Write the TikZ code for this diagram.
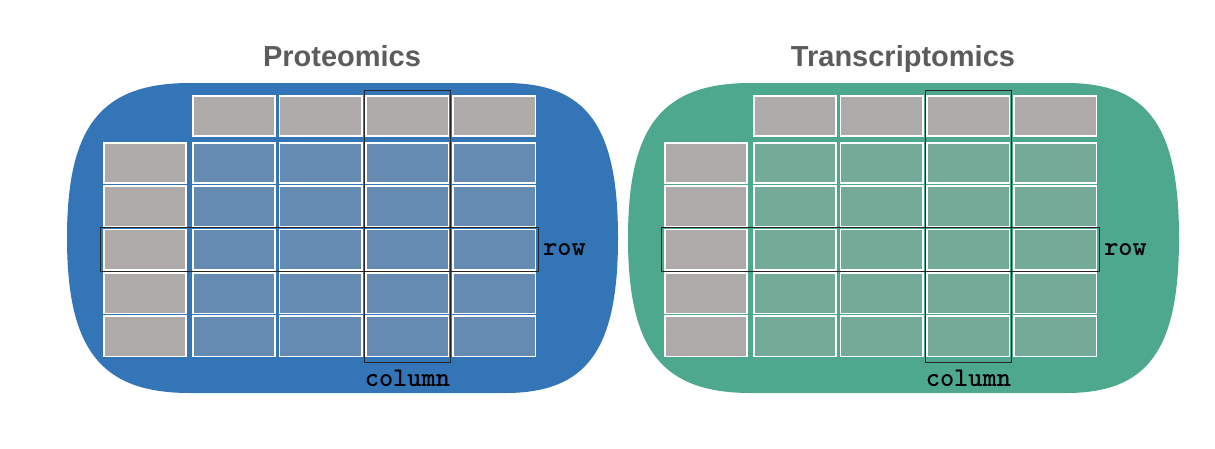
\documentclass[tikz,border=0pt]{standalone}
\usepackage{fontspec}
\newfontfamily\headfont{Liberation Sans}
\usetikzlibrary{fit,positioning}

\definecolor{protblue}{RGB}{52,117,183}
\definecolor{protcell}{RGB}{101,139,178}
\definecolor{transgreen}{RGB}{78,168,142}
\definecolor{transcell}{RGB}{115,171,152}
\definecolor{cellgray}{RGB}{173,170,169}
\definecolor{titlegray}{RGB}{92,92,92}

\begin{document}
\begin{tikzpicture}[x=1pt, y=-1pt,
	cell/.style={draw=white, line width=1.6pt, minimum width=82.5pt, minimum height=40.5pt, inner sep=0pt},
	hilite/.style={draw=black!85, line width=0.9pt, inner sep=0pt},
	omicstitle/.style={font=\headfont\bfseries\fontsize{29}{32}\selectfont, text=titlegray, anchor=base},
	dimlabel/.style={font=\ttfamily\bfseries\fontsize{27}{29}\selectfont, inner sep=0pt},
	]
	\useasboundingbox (0,0) rectangle (1215,448);

	\foreach \pre/\dx/\blob/\cellcol/\heading in {p/0/protblue/protcell/Proteomics, t/561/transgreen/transcell/Transcriptomics}{
	\begin{scope}[xshift=\dx]
		% rounded backdrop
		\fill[\blob] (190,83) -- (505,83) .. controls (587,83) and (618,126) .. (618,238)
			.. controls (618,350) and (587,393) .. (505,393) -- (190,393)
			.. controls (101,393) and (67,350) .. (67,238)
			.. controls (67,126) and (101,83) .. (190,83) -- cycle;
		\node[omicstitle] (\pre-title) at (342,66.5) {\heading};
		% header row
		\foreach \c in {1,...,4}
			\node[cell, fill=cellgray] (\pre-h\c) at ({234+86.7*(\c-1)},116) {};
		% row labels and data cells
		\foreach \r in {1,...,5}{
			\node[cell, fill=cellgray] (\pre-l\r) at (145,{163+43.35*(\r-1)}) {};
			\foreach \c in {1,...,4}
				\node[cell, fill=\cellcol] (\pre-\r-\c) at ({234+86.7*(\c-1)},{163+43.35*(\r-1)}) {};
		}
		% highlighted row and column
		\node[hilite, fit=(\pre-l3)(\pre-3-4), inner xsep=2.5pt, inner ysep=1pt] (\pre-row) {};
		\node[hilite, fit=(\pre-h3)(\pre-5-3), inner xsep=0.5pt, inner ysep=4.5pt] (\pre-col) {};
		\node[dimlabel, right=4pt of \pre-row] (\pre-rowlabel) {row};
		\node[dimlabel, below=7pt of \pre-col] (\pre-collabel) {column};
	\end{scope}
	}
\end{tikzpicture}
\end{document}
